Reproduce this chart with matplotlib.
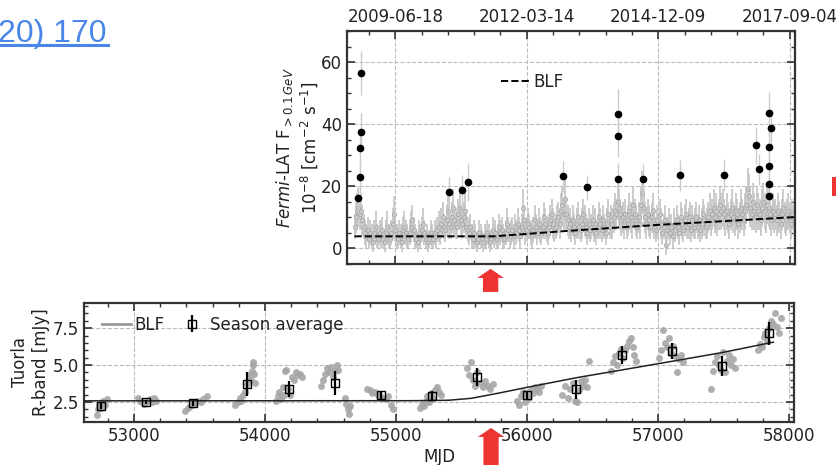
import numpy as np
import matplotlib
matplotlib.use("Agg")
import matplotlib.pyplot as plt
from matplotlib.lines import Line2D
from matplotlib.patches import Rectangle
from matplotlib.ticker import MultipleLocator

# ======================================
# Fermi-LAT data (10-day bins)
# ======================================

fermi_flux = [
    7, 10, 12, 13, 11, 12, 9, 7, 5, 4, 6, 3, 5, 4, 2, 5, 7, 4, 3, 5,
    4, 6, 3, 2, 5, 7, 4, 3, 5, 8, 11, 6, 4, 3, 5, 4, 2, 6, 7, 5,
    4, 3, 5, 7, 9, 6, 4, 3, 2, 5, 4, 6, 8, 5, 3, 4, 2, 3, 5, 4,
    3, 5, 4, 6, 7, 5, 8, 10, 7, 6, 9, 12, 8, 7, 10, 13, 9, 8, 7, 11,
    13, 9, 8, 10, 12, 7, 6, 5, 7, 4, 3, 5, 4, 2, 3, 5, 4, 3, 2, 4,
    3, 5, 4, 2, 3, 6, 4, 5, 3, 4, 7, 5, 6, 4, 3, 5, 8, 6, 4, 5,
    6, 4, 7, 5, 8, 6, 4, 7, 13, 9, 5, 6, 8, 7, 5, 4, 6, 9, 7, 5,
    8, 6, 5, 7, 10, 8, 6, 5, 7, 9, 11, 8, 6, 7, 9, 10, 8, 12, 14, 11,
    16, 11, 9, 7, 8, 6, 9, 7, 5, 8, 10, 7, 6, 8, 11, 9, 7, 5, 8, 6,
    7, 9, 6, 8, 5, 7, 10, 8, 6, 9, 7, 5, 8, 11, 7, 9, 8, 10, 12, 11,
    15, 13, 11, 9, 10, 8, 11, 7, 9, 12, 10, 8, 14, 11, 9, 7, 10, 8, 14, 18,
    13, 10, 8, 11, 9, 7, 10, 12, 8, 6, 9, 7, 11, 8, 5, 7, 9, 1, 6, 8,
    5, 7, 4, 8, 6, 9, 7, 5, 10, 8, 6, 9, 11, 7, 8, 10, 6, 9, 7, 8,
    10, 7, 9, 6, 8, 11, 9, 7, 8, 10, 12, 9, 11, 13, 10, 12, 9, 11, 14, 12,
    13, 11, 9, 12, 10, 8, 11, 13, 10, 9, 12, 11, 8, 10, 13, 11, 9, 12, 14, 19,
    17, 13, 11, 15, 12, 10, 14, 12, 11, 9, 13, 15, 12, 10, 14, 13, 11, 9, 12, 10,
    11, 9, 12, 10, 8, 11, 13, 10, 9, 11, 12, 10, 8, 11, 9,
]

fermi_err = [
    4, 5, 6, 6, 5, 6, 5, 4, 4, 4, 4, 3, 4, 4, 3, 4, 5, 4, 3, 4,
    4, 4, 3, 3, 4, 5, 4, 3, 4, 5, 6, 4, 4, 3, 4, 4, 3, 4, 5, 4,
    4, 3, 4, 5, 5, 4, 4, 3, 3, 4, 4, 4, 5, 4, 3, 4, 3, 3, 4, 4,
    3, 4, 4, 4, 5, 4, 5, 5, 4, 4, 5, 5, 5, 4, 5, 6, 5, 5, 4, 5,
    6, 5, 5, 5, 6, 4, 4, 4, 4, 4, 3, 4, 4, 3, 3, 4, 4, 3, 3, 4,
    3, 4, 4, 3, 3, 4, 4, 4, 3, 4, 4, 4, 4, 4, 3, 4, 5, 4, 4, 4,
    4, 4, 4, 4, 5, 4, 4, 4, 6, 5, 4, 4, 5, 4, 4, 4, 4, 5, 4, 4,
    5, 4, 4, 4, 5, 5, 4, 4, 4, 5, 5, 5, 4, 4, 5, 5, 5, 6, 6, 5,
    7, 5, 5, 4, 5, 4, 5, 4, 4, 5, 5, 4, 4, 5, 5, 5, 4, 4, 5, 4,
    4, 5, 4, 5, 4, 4, 5, 5, 4, 5, 4, 4, 5, 5, 4, 5, 5, 5, 6, 5,
    6, 6, 5, 5, 5, 5, 5, 4, 5, 6, 5, 5, 6, 5, 5, 4, 5, 5, 6, 7,
    6, 5, 5, 5, 5, 4, 5, 6, 5, 4, 5, 4, 5, 5, 4, 4, 5, 3, 4, 5,
    4, 4, 4, 5, 4, 5, 4, 4, 5, 5, 4, 5, 5, 4, 5, 5, 4, 5, 4, 5,
    5, 4, 5, 4, 5, 5, 5, 4, 5, 5, 6, 5, 5, 6, 5, 6, 5, 5, 6, 6,
    6, 5, 5, 6, 5, 5, 5, 6, 5, 5, 6, 5, 5, 5, 6, 5, 5, 6, 6, 7,
    7, 6, 5, 6, 6, 5, 6, 6, 5, 5, 6, 6, 6, 5, 6, 6, 5, 5, 6, 5,
    5, 5, 6, 5, 5, 5, 6, 5, 5, 5, 6, 5, 5, 5, 5,
]

fermi_mjd = 54690 + 10 * np.arange(len(fermi_flux))

# flare points (black)
flare_mjd = [54718, 54728, 54735, 54738, 54740, 55405, 55504, 55550,
             56275, 56458, 56695, 56695, 56697, 56885, 57168, 57496,
             57741, 57763, 57840, 57855, 57840, 57845, 57845, 57845]
flare_flux = [16.1, 23.0, 32.4, 37.5, 56.5, 18.1, 18.7, 21.4,
              23.3, 19.7, 43.2, 36.3, 22.5, 22.3, 23.5, 23.8,
              33.2, 25.5, 43.5, 38.9, 32.5, 26.6, 20.7, 16.9]
flare_err = [4, 5, 6, 6, 7, 5, 5, 6, 5, 4, 8, 7,
             5, 5, 5, 5, 6, 5, 7, 6, 6, 5, 5, 4]

# Fermi baseline level
fermi_blf_mjd = [54690, 55750, 56260, 57000, 58000, 58040]
fermi_blf = [3.9, 3.9, 5.5, 7.6, 10.0, 10.1]

# ======================================
# Tuorla R-band data
# ======================================

tuorla_mjd = [
    52715, 52725, 52735, 52745, 52755, 52760, 52770, 52780, 52790,
    53030, 53045, 53060, 53075, 53090, 53105, 53120, 53135, 53150, 53165,
    53390, 53410, 53425, 53440, 53455, 53470, 53490, 53510, 53530, 53555,
    53770, 53790, 53805, 53820, 53835, 53850, 53865, 53880, 53890, 53900,
    53905, 53910, 53915, 53920,
    54080, 54095, 54110, 54125, 54135, 54145, 54150, 54160, 54175, 54190,
    54205, 54220, 54235, 54250, 54265, 54280,
    54430, 54445, 54460, 54475, 54490, 54505, 54520, 54535, 54550, 54560,
    54610, 54620, 54630, 54640, 54650,
    54780, 54800, 54820, 54840, 54860, 54880, 54900, 54920, 54940, 54960, 54980,
    55180, 55195, 55210, 55225, 55240, 55255, 55270, 55285, 55300, 55315,
    55330, 55345,
    55545, 55560, 55575, 55590, 55605, 55620, 55640, 55660, 55680, 55700,
    55720, 55740,
    55925, 55940, 55955, 55970, 55985, 56000, 56015, 56030, 56045, 56060,
    56075, 56090, 56105,
    56270, 56290, 56310, 56330, 56350, 56365, 56380, 56395, 56410, 56425,
    56440, 56455, 56475,
    56640, 56655, 56670, 56685, 56700, 56715, 56730, 56745, 56760, 56775,
    56790, 56805, 56820, 56835,
    57010, 57025, 57041, 57055, 57070, 57085, 57100, 57115, 57130, 57143,
    57160, 57175, 57190,
    57405, 57420, 57435, 57450, 57465, 57480, 57495, 57510, 57525, 57540,
    57555, 57570, 57590,
    57760, 57775, 57790, 57805, 57820, 57835, 57850, 57865, 57880, 57895,
    57910, 57925, 57940,
]

tuorla_flux = [
    1.6, 2.0, 2.3, 2.1, 2.4, 2.6, 2.5, 2.3, 2.7,
    2.8, 2.6, 2.5, 2.4, 2.5, 2.6, 2.7, 2.5, 2.8, 2.6,
    1.9, 2.1, 2.2, 2.3, 2.4, 2.5, 2.6, 2.5, 2.7, 2.9,
    2.3, 2.5, 2.8, 2.6, 3.0, 3.2, 3.7, 4.3, 4.0, 4.6,
    5.0, 5.2, 4.4, 3.8,
    2.6, 2.9, 3.2, 2.7, 3.5, 3.0, 4.6, 4.7, 3.4, 3.0,
    4.2, 4.0, 4.5, 4.3, 4.4, 4.2,
    3.6, 4.0, 4.4, 4.8, 4.5, 4.9, 4.2, 4.6, 5.0, 4.7,
    2.8, 2.4, 2.0, 1.7, 2.2,
    3.4, 3.3, 3.1, 3.2, 3.0, 2.9, 2.8, 2.7, 2.9, 2.3, 2.0,
    2.1, 2.4, 2.2, 2.6, 2.9, 2.5, 3.1, 2.8, 3.3, 3.5,
    3.2, 3.0,
    4.8, 4.3, 5.2, 4.0, 3.6, 4.5, 3.8, 3.5, 3.9, 3.6,
    3.4, 3.7,
    2.6, 2.3, 2.9, 3.2, 2.5, 3.0, 2.8, 3.3, 3.1, 3.5,
    3.4, 3.2, 3.6,
    3.0, 3.6, 2.8, 3.4, 3.8, 2.6, 2.5, 3.3, 3.9, 3.6,
    4.0, 3.5, 5.3,
    4.6, 5.2, 5.6, 5.0, 5.8, 6.1, 5.5, 6.0, 6.3, 6.6,
    6.8, 6.2, 5.7, 5.3,
    5.5, 6.0, 7.4, 6.5, 6.2, 6.8, 5.8, 6.3, 5.6, 4.5,
    5.4, 5.7, 5.2,
    3.4, 4.6, 5.2, 5.6, 5.0, 4.7, 5.9, 4.5, 5.3, 5.7,
    5.0, 5.4, 4.8,
    6.0, 6.4, 6.2, 6.9, 7.2, 6.6, 7.5, 8.0, 7.8, 8.5,
    7.6, 7.2, 8.2,
]

# season averages
season_mjd = [52746, 53089, 53450, 53860, 54183, 54532, 54883, 55277,
              55618, 56003, 56377, 56723, 57103, 57491, 57850]
season_flux = [2.23, 2.50, 2.41, 3.72, 3.36, 3.78, 2.95, 2.93,
               4.19, 2.97, 3.36, 5.68, 5.95, 4.93, 7.14]
season_err = [0.2, 0.15, 0.15, 0.8, 0.53, 0.79, 0.3, 0.3,
              0.6, 0.25, 0.64, 0.6, 0.56, 0.7, 0.75]

# Tuorla baseline level
tuorla_blf_mjd = [52600, 55114, 55400, 55573, 55776, 55998, 56380, 56723, 57103, 57491, 57880]
tuorla_blf = [2.58, 2.59, 2.62, 2.75, 3.09, 3.49, 4.15, 4.67, 5.25, 5.85, 6.55]

# date labels for top axis
date_ticks = [55000, 56000, 57000, 58000]
date_labels = ["2009-06-18", "2012-03-14", "2014-12-09", "2017-09-04"]

# marked epoch (red arrows)
arrow_mjd = 55725

# ======================================
# Figure
# ======================================

plt.rcParams["font.family"] = ["DejaVu Sans"]
plt.rcParams["font.size"] = 12
plt.rcParams["mathtext.fontset"] = "dejavusans"

fig = plt.figure(figsize=(8.36, 4.65), dpi=100)

ax1 = fig.add_axes([0.4151, 0.4323, 0.5359, 0.5011])
ax2 = fig.add_axes([0.1005, 0.0925, 0.8493, 0.2559])

text_col = "#222222"
grid_kw = dict(color="#bbbbbb", linestyle="--", linewidth=0.8)

# -------------------------
# top panel: Fermi
# -------------------------

ax1.errorbar(
    fermi_mjd, fermi_flux, yerr=fermi_err,
    fmt="o", ms=3, mfc="#cccccc", mec="#a8a8a8", mew=0.6,
    ecolor="#c4c4c4", elinewidth=1.2, capsize=0, zorder=2
)

ax1.errorbar(
    flare_mjd, flare_flux, yerr=flare_err,
    fmt="o", ms=4.5, color="black",
    ecolor="#cccccc", elinewidth=1.0, capsize=0, zorder=4
)

ax1.plot(fermi_blf_mjd, fermi_blf, "k--", lw=1.4, label="BLF", zorder=5)

ax1.set_xlim(54633, 58040)
ax1.set_ylim(-5, 70)

ax1.set_xticks(date_ticks)
ax1.set_xticklabels(date_labels)
ax1.xaxis.set_minor_locator(MultipleLocator(200))
ax1.set_yticks([0, 20, 40, 60])
ax1.yaxis.set_minor_locator(MultipleLocator(5))

ax1.tick_params(axis="x", which="both", top=True, bottom=True,
                labeltop=True, labelbottom=False)
ax1.tick_params(axis="y", which="both", left=True, right=True)

ax1.grid(True, which="major", **grid_kw)

ax1.set_ylabel(
    r"$\it{Fermi}$-LAT F$_{>0.1\,GeV}$" + "\n" +
    r"10$^{-8}$ [cm$^{-2}$ s$^{-1}$]",
    fontsize=12, color=text_col, labelpad=1
)

ax1.legend(loc="center left", bbox_to_anchor=(0.31, 0.78),
           frameon=False, handlelength=1.75, handletextpad=0.2,
           fontsize=12, labelcolor=text_col)

# -------------------------
# lower panel: Tuorla
# -------------------------

ax2.plot(tuorla_mjd, tuorla_flux, "o", ms=5, color="#a6a6a6",
         alpha=0.9, mew=0, zorder=2)

ax2.plot(tuorla_blf_mjd, tuorla_blf, "-", color="#222222", lw=1.1, zorder=3)

ax2.errorbar(
    season_mjd, season_flux, yerr=season_err,
    fmt="s", ms=6, mfc="none", mec="black", mew=1.0,
    ecolor="black", elinewidth=1.6, capsize=0, zorder=4
)

ax2.set_xlim(52618, 58038)
ax2.set_ylim(1.15, 9.2)

ax2.set_xticks([53000, 54000, 55000, 56000, 57000, 58000])
ax2.xaxis.set_minor_locator(MultipleLocator(200))
ax2.set_yticks([2.5, 5.0, 7.5])
ax2.yaxis.set_minor_locator(MultipleLocator(0.5))

ax2.tick_params(axis="x", which="both", top=True, bottom=True)
ax2.tick_params(axis="y", which="both", left=True, right=True)

ax2.grid(True, which="major", **grid_kw)

ax2.set_xlabel("MJD", fontsize=12, color=text_col, labelpad=2)
ax2.set_ylabel("Tuorla\nR-band [mJy]", fontsize=12, color=text_col, labelpad=2)

blf_handle = Line2D([], [], color="#999999", lw=2)
season_handle = ax2.errorbar([], [], yerr=[], fmt="s", ms=6, mfc="none",
                             mec="black", ecolor="black", elinewidth=1.6)
ax2.legend([blf_handle, season_handle], ["BLF", "Season average"],
           loc="upper left", bbox_to_anchor=(0.004, 1.02), ncol=2,
           frameon=False, handlelength=1.75, handletextpad=0.2,
           columnspacing=0.8, fontsize=12, labelcolor=text_col)

# -------------------------
# common axis style
# -------------------------

for ax in (ax1, ax2):
    for sp in ax.spines.values():
        sp.set_linewidth(1.6)
        sp.set_color("#333333")
    ax.tick_params(which="major", direction="in", length=6, width=1.2,
                   colors="#333333", labelcolor=text_col, labelsize=12)
    ax.tick_params(which="minor", direction="in", length=3, width=1.0,
                   colors="#333333")

# ======================================
# page marks
# ======================================

red = "#ee3333"
arrow_kw = dict(width=11, headwidth=19, headlength=6.5, shrink=0,
                color=red, lw=0)

ax1.annotate("", xy=(arrow_mjd, -0.021), xycoords=("data", "axes fraction"),
             xytext=(arrow_mjd, -0.12), textcoords=("data", "axes fraction"),
             arrowprops=arrow_kw, annotation_clip=False)

ax2.annotate("", xy=(arrow_mjd, -0.05), xycoords=("data", "axes fraction"),
             xytext=(arrow_mjd, -0.40), textcoords=("data", "axes fraction"),
             arrowprops=arrow_kw, annotation_clip=False)

fig.add_artist(Rectangle((0.995, 0.5785), 0.01, 0.041,
                         transform=fig.transFigure, color=red, lw=0))

blue = "#4a86e8"
fig.text(-0.002, 0.9097, "20) 170", fontsize=23, color=blue,
         family="Liberation Sans", va="baseline", ha="left")
fig.add_artist(Line2D([0, 0.129], [0.9043, 0.9043],
                      transform=fig.transFigure, color=blue, lw=2.2))

fig.savefig("out.png", dpi=100)
